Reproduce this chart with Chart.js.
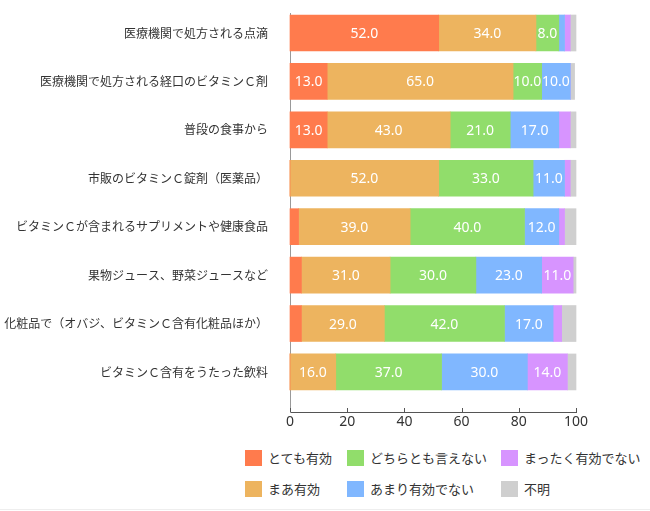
<!DOCTYPE html>
<html><head><meta charset="utf-8">
<script src="https://cdn.jsdelivr.net/npm/chart.js@4/dist/chart.umd.min.js"></script>
<style>
html,body{margin:0;padding:0;background:#fff;}
body{width:650px;height:511px;position:relative;overflow:hidden;font-family:"Noto Sans CJK JP","Noto Sans",sans-serif;}
#wrap{position:absolute;left:0;top:0;width:650px;height:440px;}
#legend{position:absolute;left:0;top:440px;width:650px;height:70px;}
.li{position:absolute;display:flex;align-items:center;font-size:13px;color:#333;white-space:nowrap;}
.li span.box{display:inline-block;width:17px;height:16px;margin-right:6px;}
#bline{position:absolute;left:0;top:509px;width:650px;height:1px;background:#eee;}
</style></head>
<body>
<div id="wrap"><canvas id="c" width="650" height="440"></canvas></div>
<div id="legend"></div>
<div id="bline"></div>
<script>
const categories = [
  "医療機関で処方される点滴",
  "医療機関で処方される経口のビタミンＣ剤",
  "普段の食事から",
  "市販のビタミンＣ錠剤（医薬品）",
  "ビタミンＣが含まれるサプリメントや健康食品",
  "果物ジュース、野菜ジュースなど",
  "化粧品で（オバジ、ビタミンＣ含有化粧品ほか）",
  "ビタミンＣ含有をうたった飲料"
];
const seriesNames = ["とても有効","まあ有効","どちらとも言えない","あまり有効でない","まったく有効でない","不明"];
const veryEffective   = [52, 13, 13, 0, 3, 4, 4, 0];
const fairlyEffective = [34, 65, 43, 52, 39, 31, 29, 16];
const neutral         = [8, 10, 21, 33, 40, 30, 42, 37];
const notVery         = [2, 10, 17, 11, 12, 23, 17, 30];
const notAtAll        = [2, 0, 4, 2, 2, 11, 3, 14];
const unknown         = [2, 1.5, 2, 2, 4, 1, 5, 3];
const xTicks = [0, 20, 40, 60, 80, 100];

const colors = ["#FF7B4D","#EDB45F","#91DD6B","#80B7FF","#D794FF","#CFCFCF"];
const seriesData = [veryEffective, fairlyEffective, neutral, notVery, notAtAll, unknown];

const datasets = seriesNames.map((n,i)=>({
  label:n, data:seriesData[i], backgroundColor:colors[i], borderWidth:0,
  barThickness:36, clip:false
}));

const labelPlugin = {
  id:'segLabels',
  afterDatasetsDraw(chart){
    const ctx = chart.ctx;
    ctx.save();
    ctx.font = '14px "Noto Sans", "Noto Sans CJK JP", sans-serif';
    ctx.fillStyle = '#fff';
    ctx.textAlign = 'center';
    ctx.textBaseline = 'middle';
    chart.data.datasets.forEach((ds, di)=>{
      const meta = chart.getDatasetMeta(di);
      meta.data.forEach((bar, i)=>{
        const v = ds.data[i];
        if (v >= 6) {
          const p = bar.getProps(['x','y','base'], true);
          ctx.fillText(v.toFixed(1), (p.x + p.base)/2, p.y + 1);
        }
      });
    });
    ctx.restore();
  }
};

const tickMarks = {
  id:'tickMarks',
  afterDraw(chart){
    const s = chart.scales.x, ctx = chart.ctx, b = chart.chartArea.bottom;
    ctx.save();
    ctx.strokeStyle = '#555'; ctx.lineWidth = 1;
    s.ticks.forEach(t=>{
      const x = Math.round(s.getPixelForValue(t.value)) + 0.5;
      ctx.beginPath(); ctx.moveTo(x, b - 4); ctx.lineTo(x, b); ctx.stroke();
    });
    ctx.restore();
  }
};

new Chart(document.getElementById('c'), {
  type:'bar',
  data:{labels:categories, datasets},
  plugins:[labelPlugin, tickMarks],
  options:{
    indexAxis:'y',
    responsive:false,
    animation:false,
    layout:{padding:{top:13, right:74, left:0, bottom:0}},
    plugins:{legend:{display:false}, tooltip:{enabled:false}},
    scales:{
      x:{
        stacked:true, min:0, max:100,
        afterBuildTicks(scale){ scale.ticks = xTicks.map(v=>({value:v})); },
        afterFit(scale){ scale.height = 28; },
        grid:{display:false, drawTicks:false},
        border:{display:true, color:'#555', width:1},
        ticks:{padding:2, color:'#333', font:{size:14, family:'"Noto Sans", sans-serif'}, maxRotation:0, autoSkip:false}
      },
      y:{
        stacked:true,
        afterBuildTicks(scale){ scale._startValue = -0.413; scale._valueRange = 8.24; },
        afterFit(scale){ scale.width = 290; },
        grid:{display:false, drawTicks:true, tickLength:22},
        border:{display:true, color:'#999', width:1},
        ticks:{padding:0, color:'#333', font:{size:12, family:'"Noto Sans CJK JP", sans-serif'}, autoSkip:false}
      }
    }
  }
});

// HTML legend, column-major (3 columns x 2 rows)
const legendPos = [
  {x:245, y:8}, {x:245, y:39},
  {x:347, y:8}, {x:347, y:39},
  {x:501, y:8}, {x:501, y:39}
];
const lg = document.getElementById('legend');
seriesNames.forEach((n,i)=>{
  const d = document.createElement('div');
  d.className = 'li';
  d.style.left = legendPos[i].x + 'px';
  d.style.top = legendPos[i].y + 'px';
  d.innerHTML = '<span class="box" style="background:'+colors[i]+'"></span><span>'+n+'</span>';
  lg.appendChild(d);
});
</script>
</body></html>
